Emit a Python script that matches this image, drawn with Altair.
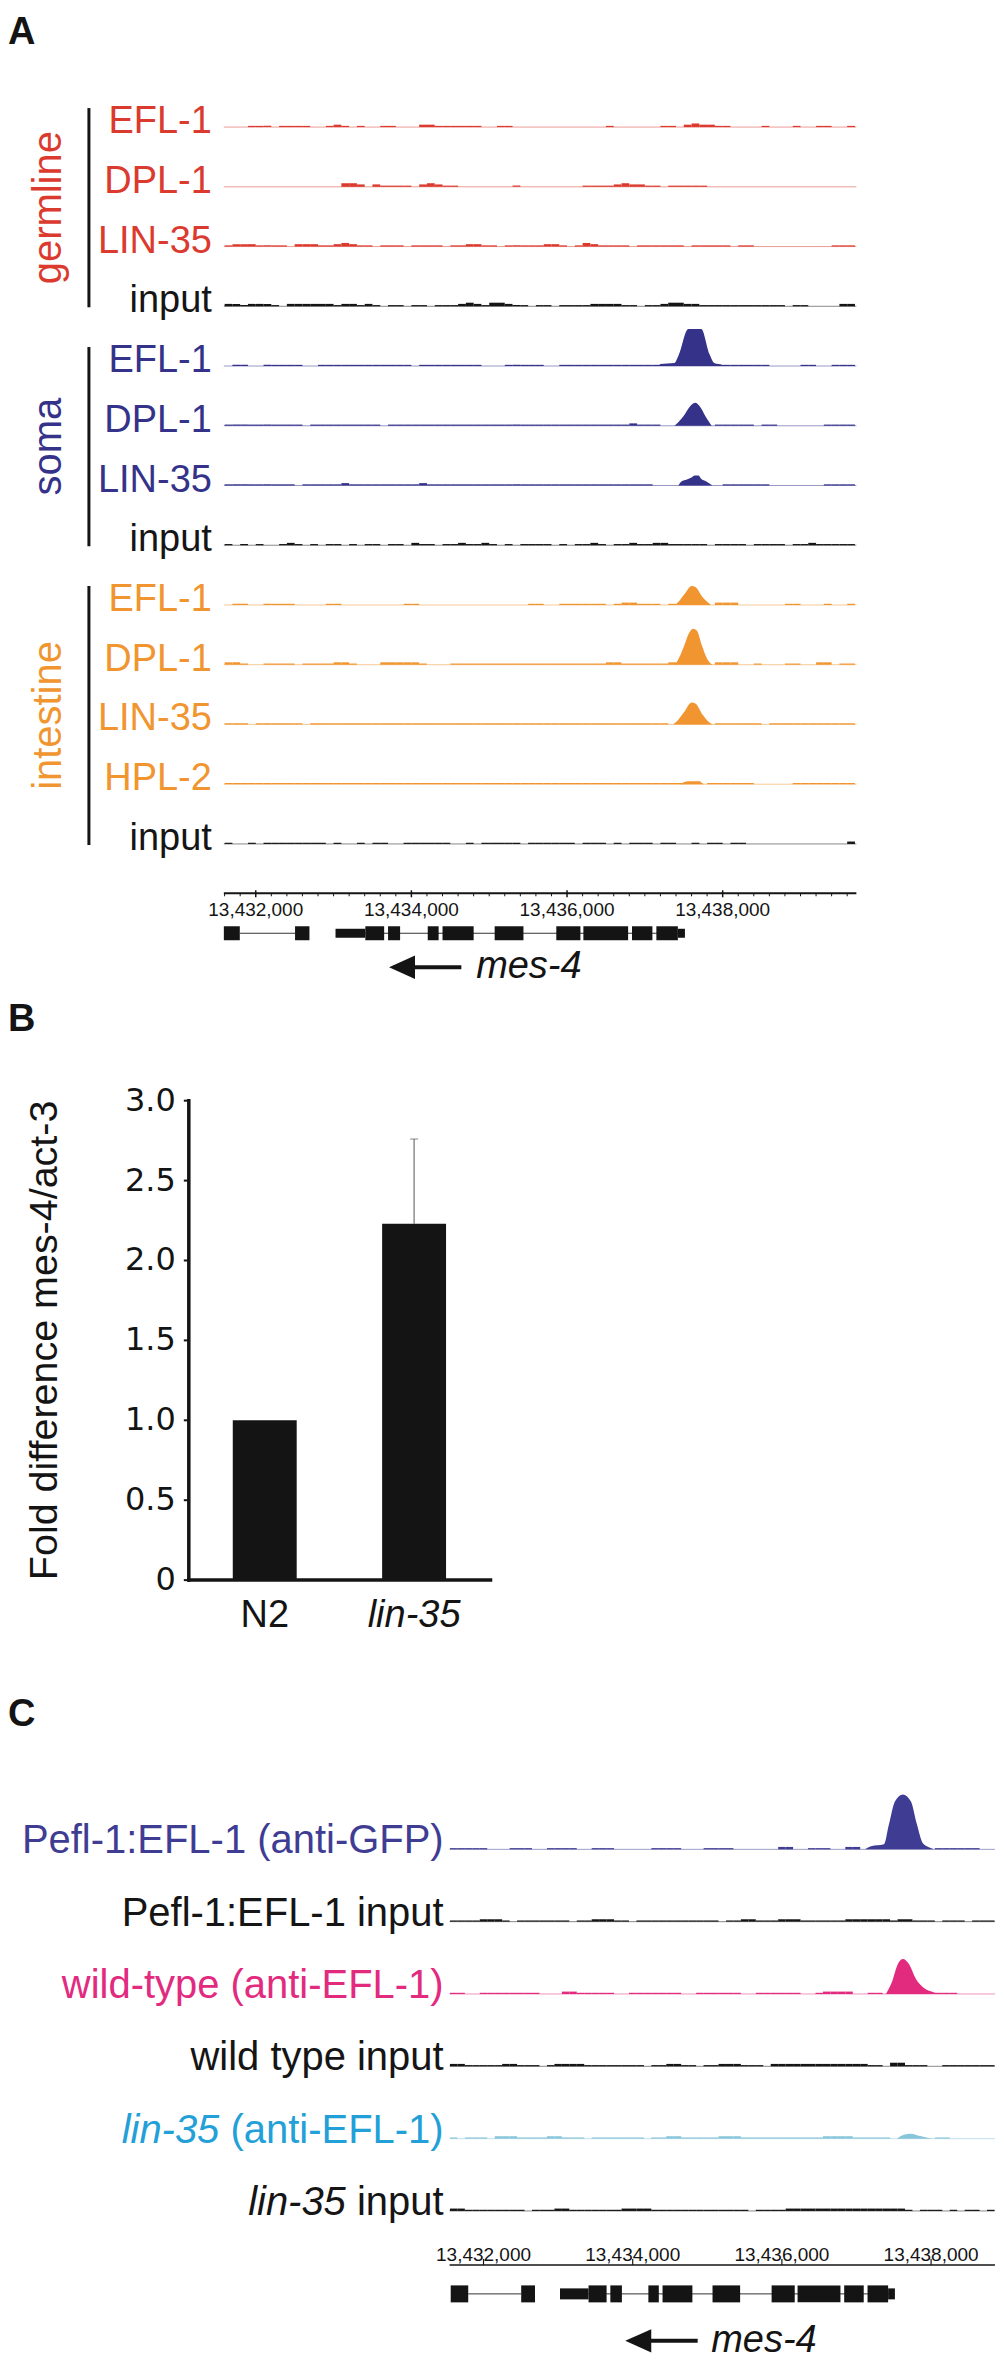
import altair as alt
import pandas as pd

FONT = "Liberation Sans"
WIDE_FONT = "DejaVu Sans"
INK = "#141414"
NOISE_PX = 1.2
BIN = 100
W = 988
HA, HB, HC = 985, 697, 676

COLOR_KEYS = ["germline", "soma", "intestine", "input", "gfp", "wt", "lin", "lin_txt"]
COLOR_VALUES = ["#DB3A2E", "#35328A", "#F0952F", "#151515", "#3F3D93", "#E22A7F", "#86C5DA", "#22A0D7"]


def color_enc():
    return alt.Color("key:N", scale=alt.Scale(domain=COLOR_KEYS, range=COLOR_VALUES), legend=None)


# ---------------- gene model (shared by A and C) ----------------
GENE_NAME = "mes-4"
GENE_EXONS = [(13431560, 13431795), (13432505, 13432690), (13433408, 13433650), (13433700, 13433855),
              (13434210, 13434350), (13434400, 13434800), (13435070, 13435440), (13435862, 13436172),
              (13436210, 13436785), (13436835, 13437097), (13437148, 13437424)]
GENE_UTR = [(13433025, 13433408), (13437424, 13437515)]
GENE_INTRONS = [(13431795, 13432505), (13433408, 13437515)]

# ---------------- Panel A ----------------
A_LABELS = ["EFL-1", "DPL-1", "LIN-35", "input", "EFL-1", "DPL-1", "LIN-35", "input",
            "EFL-1", "DPL-1", "LIN-35", "HPL-2", "input"]
A_KEYS = ["germline", "germline", "germline", "input", "soma", "soma", "soma", "input",
          "intestine", "intestine", "intestine", "intestine", "input"]
A_GROUP_NAMES = ["germline", "soma", "intestine"]
A_GROUP_SPANS = [(0, 3), (4, 7), (8, 12)]
A_START, A_END = 13431590, 13439718
A_BIN0 = 13431600
A_TICKS = [13432000, 13434000, 13436000, 13438000]
A_TICK_LABELS = ["13,432,000", "13,434,000", "13,436,000", "13,438,000"]
A_MINOR_STEP = 200
A_ARROW = (13433713, 13434642, 13434832)  # tip, tail, text start

A_NOISE = [
    [0,0,0,1,1,1,0,1,1,1, 1,0,0,1,2,1,0,1,0,0, 1,1,0,0,0,2,2,1,1,1, 1,1,1,0,0,1,1,0,0,0,
     0,0,0,0,0,0,0,0,0,1, 0,0,0,0,0,0,1,1,0,2, 3,2,2,1,1,0,0,0,0,1, 0,0,0,1,0,0,1,1,0,0, 1],
    [0,0,0,0,0,0,0,0,0,0, 0,0,0,0,0,3,3,2,0,2, 1,1,1,1,0,2,3,2,1,1, 0,0,0,0,0,0,0,1,0,0,
     0,0,0,0,0,0,1,1,1,1, 2,3,2,2,1,1,0,1,1,1, 1,1,0,0,0,0,0,0,0,0, 0,0,0,0,0,0,0,0,0,0, 0],
    [1,2,2,2,1,1,1,1,0,2, 2,2,1,1,2,3,2,1,1,0, 1,1,1,0,1,1,1,1,0,1, 1,2,2,1,1,0,1,1,1,1,
     1,2,2,1,0,1,3,2,1,1, 1,1,0,1,1,1,1,1,1,0, 1,1,1,1,1,0,1,1,0,0, 0,0,0,0,0,0,0,0,1,1, 1],
    [2,2,1,2,2,2,1,0,2,2, 2,2,2,2,1,2,2,1,2,1, 0,1,1,0,1,1,0,1,1,1, 2,3,2,1,3,3,2,1,1,0,
     1,1,0,1,1,1,1,2,2,2, 2,1,1,0,1,1,2,3,3,2, 2,1,1,1,1,1,1,1,1,1, 1,1,0,1,1,0,0,0,0,2, 2],
    [0,1,1,0,0,1,1,1,1,1, 0,0,1,1,1,1,1,1,1,1, 1,1,1,1,0,1,1,1,1,1, 1,1,1,0,0,0,1,1,1,1,
     1,0,0,1,1,1,1,1,1,1, 1,1,1,1,1,1,0,0,0,0, 0,0,0,0,1,1,1,1,1,1, 0,0,0,0,1,1,0,0,1,1, 1],
    [1,1,1,1,1,1,1,1,1,1, 0,1,1,1,1,1,1,1,1,1, 0,1,1,1,1,1,1,1,1,1, 1,1,1,1,1,1,1,1,1,1,
     1,1,1,1,1,1,1,1,1,1, 1,1,2,1,1,1,0,0,0,0, 0,0,0,1,1,1,1,1,0,1, 1,0,0,0,0,0,0,1,1,1, 1],
    [1,1,1,1,1,1,1,1,1,0, 1,1,1,1,1,2,1,1,1,1, 1,1,1,1,1,2,1,1,1,1, 1,1,1,1,1,1,1,1,1,1,
     1,1,1,1,1,1,1,1,1,1, 1,1,1,1,1,0,0,0,0,0, 0,0,0,0,1,1,1,1,1,1, 0,0,0,0,0,0,0,1,1,1, 1],
    [1,0,1,0,1,0,0,1,2,1, 0,1,0,1,1,0,1,0,1,1, 0,1,1,0,2,1,1,0,1,1, 2,1,1,2,1,0,1,0,1,1,
     1,1,0,1,0,1,1,2,1,0, 1,1,2,1,1,2,2,1,1,1, 1,1,0,1,1,1,1,0,1,1, 1,1,0,1,1,2,1,1,1,1, 1],
    [0,1,1,0,0,1,1,1,1,0, 0,0,0,1,1,0,0,0,0,0, 0,0,0,1,1,0,0,0,0,0, 0,0,0,0,0,0,0,0,0,1,
     1,0,0,1,1,1,1,1,1,0, 1,2,2,1,1,1,0,1,0,0, 0,0,0,2,2,2,0,0,0,0, 0,0,1,1,0,0,0,1,0,0, 1],
    [2,2,1,0,0,1,1,1,1,0, 1,1,1,1,2,2,1,0,0,0, 2,2,2,2,2,1,0,0,0,1, 1,1,1,1,1,1,1,1,1,1,
     1,1,1,1,1,1,1,1,1,2, 2,1,1,1,1,1,1,2,0,0, 0,0,0,2,2,2,0,0,1,0, 0,0,1,1,0,0,2,2,0,1, 1],
    [1,1,1,0,1,1,1,1,1,1, 0,1,1,1,1,1,1,1,1,1, 1,1,1,1,1,1,1,1,1,1, 1,1,1,1,1,1,1,1,1,1,
     1,1,1,1,1,1,1,1,1,1, 1,1,1,1,1,1,1,0,0,0, 0,0,0,1,1,1,1,1,1,0, 1,1,1,1,1,1,1,1,1,1, 1],
    [1,1,1,1,1,1,1,1,1,1, 1,1,1,1,1,1,1,1,1,1, 1,1,1,1,1,1,1,1,1,1, 1,1,1,1,1,1,1,1,1,1,
     1,1,1,1,1,1,1,1,1,1, 1,1,1,1,1,1,1,1,1,0, 0,0,1,1,1,1,1,1,0,0, 0,0,0,1,1,1,1,1,1,1, 1],
    [1,0,0,1,0,1,1,1,1,1, 1,1,1,0,1,0,0,1,0,1, 1,0,0,1,1,1,1,1,1,0, 0,1,0,1,1,1,1,1,0,1,
     1,1,1,1,1,0,1,1,1,0, 1,0,1,1,1,0,1,1,0,0, 1,0,1,1,0,1,1,0,0,0, 0,0,0,0,0,0,0,0,0,0, 2],
]

A_PEAKS = {
    4: ([13437180, 13437200, 13437380, 13437430, 13437558, 13437725, 13437830, 13437892, 13438000, 13438020],
        [0, 2, 3, 10, 37, 37, 12, 3, 1, 0]),
    5: ([13437380, 13437410, 13437500, 13437600, 13437650, 13437700, 13437790, 13437840, 13437860],
        [0, 2, 10, 21, 23, 20, 8, 2, 0]),
    6: ([13437430, 13437470, 13437540, 13437600, 13437640, 13437690, 13437720, 13437790, 13437850, 13437870],
        [0, 4, 6, 8, 10, 10, 7, 4, 1, 0]),
    8: ([13437390, 13437430, 13437520, 13437600, 13437650, 13437740, 13437820, 13437850],
        [0, 3, 12, 19, 18, 8, 2, 0]),
    9: ([13437380, 13437420, 13437500, 13437570, 13437620, 13437670, 13437730, 13437800, 13437850, 13437870],
        [0, 4, 18, 32, 36, 34, 20, 6, 1, 0]),
    10: ([13437360, 13437410, 13437510, 13437600, 13437650, 13437740, 13437830, 13437870],
         [0, 3, 13, 22, 21, 10, 2, 0]),
    11: ([13437460, 13437500, 13437560, 13437700, 13437740, 13437760],
         [0, 2, 3, 3, 1, 0]),
}

# ---------------- Panel B ----------------
B_CATS = ["N2", "lin-35"]
B_VALUES = [1.0, 2.23]
B_ERRORS = [0.0, 0.53]
B_YTICKS = [0, 0.5, 1.0, 1.5, 2.0, 2.5, 3.0]
B_YTICK_LABELS = ["0", "0.5", "1.0", "1.5", "2.0", "2.5", "3.0"]
B_YTITLE = "Fold difference mes-4/act-3"

# ---------------- Panel C ----------------
C_LABELS_MAIN = ["Pefl-1:EFL-1 (anti-GFP)", "Pefl-1:EFL-1 input", "wild-type (anti-EFL-1)",
                 "wild type input", "(anti-EFL-1)", "input"]
C_LABELS_ITALIC = ["", "", "", "", "lin-35", "lin-35"]
C_LABEL_KEYS = ["gfp", "input", "wt", "input", "lin_txt", "input"]
C_KEYS = ["gfp", "input", "wt", "input", "lin", "input"]
C_START, C_END = 13431545, 13438856
C_BIN0 = 13431550
C_TICKS = [13432000, 13434000, 13436000, 13438000]
C_TICK_LABELS = ["13,432,000", "13,434,000", "13,436,000", "13,438,000"]
C_ARROW = (13433900, 13434871, 13435052)

C_NOISE = [
    [1,1,1,1,1,0,0,0,1,1, 1,0,0,1,1,1,1,0,0,1, 1,1,0,0,0,0,0,1,1,1, 1,0,0,0,1,1,1,1,0,0,
     0,0,0,0,2,2,0,0,1,1, 1,0,0,2,2,0,0,0,0,0, 0,0,0,0,0,1,1,1,1,1, 1,0,0],
    [1,1,1,1,2,2,2,1,0,1, 1,1,1,1,1,1,0,1,1,2, 2,2,1,1,0,1,1,1,1,1, 1,1,1,1,1,1,0,1,1,2,
     2,1,1,1,2,2,2,1,1,1, 1,1,1,2,2,2,2,2,2,1, 2,2,1,1,1,0,1,1,1,0, 1,1,1],
    [1,1,0,0,1,1,1,1,1,1, 1,1,0,0,0,2,2,1,1,1, 1,1,0,0,1,1,1,1,1,1, 1,0,0,1,1,1,1,1,1,0,
     0,1,1,1,1,1,1,0,0,1, 2,2,2,2,0,0,1,1,0,0, 0,0,0,0,0,1,1,1,0,0, 0,0,0],
    [2,2,1,1,1,1,1,2,2,1, 1,1,0,1,2,2,2,2,1,1, 1,1,1,1,1,1,0,1,1,2, 2,1,1,0,1,1,2,2,2,1,
     1,1,0,2,2,2,2,2,2,2, 2,2,2,2,2,2,1,1,0,3, 3,1,1,1,0,0,1,1,1,1, 1,1,1],
    [1,0,1,1,1,0,2,2,2,1, 1,1,1,2,2,1,1,1,0,1, 1,1,1,1,1,1,0,1,1,2, 2,1,1,1,1,1,2,2,2,1,
     1,1,1,1,1,1,1,1,1,1, 2,2,2,2,1,1,1,1,1,0, 0,0,0,0,0,1,1,0,0,0, 0,0,0],
    [2,2,1,1,1,1,1,1,1,1, 0,1,1,1,2,2,1,1,1,1, 1,1,1,2,2,2,2,1,1,1, 1,1,1,1,1,1,1,1,1,1,
     0,1,1,1,1,2,2,2,2,2, 2,2,2,2,2,2,2,2,2,2, 2,1,0,1,1,1,0,1,0,1, 1,0,1],
]

C_PEAKS = {
    0: ([13437114, 13437194, 13437368, 13437435, 13437515, 13437622, 13437730, 13437810, 13437890, 13437970, 13438037],
        [0, 3, 5, 25, 48, 55, 48, 25, 6, 2, 0]),
    2: ([13437395, 13437475, 13437555, 13437622, 13437703, 13437797, 13437904, 13438024, 13438100],
        [0, 12, 30, 35, 30, 15, 6, 2, 0]),
    4: ([13437542, 13437636, 13437730, 13437837, 13438011],
        [0, 4, 5, 3, 0]),
}

# Arial advance widths (per 1000 em) for the label pieces that need offsetting
ARIAL_W = {" ": 278, "(": 333, ")": 333, "a": 556, "n": 556, "t": 278, "i": 222, "-": 333,
           "E": 667, "F": 611, "L": 556, "1": 556, "p": 556, "u": 556}


def text_width(s, size):
    return sum(ARIAL_W.get(ch, 556) for ch in s) * size / 1000.0


# ---------------- helpers ----------------
def track_frames(keys, bases, noise, peaks, start, end, bin0):
    brows, nrows, prows = [], [], []
    for i, (key, base, lst) in enumerate(zip(keys, bases, noise)):
        brows.append(dict(track=i, key=key, x0=start, x1=end, y=base))
        for k, v in enumerate(lst):
            x0 = bin0 + k * BIN
            if v > 0 and x0 < end:
                nrows.append(dict(track=i, key=key, x0=x0, x1=min(x0 + BIN, end),
                                  y0=base, y1=base - v * NOISE_PX))
    for i, (pos, hts) in peaks.items():
        for p, h in zip(pos, hts):
            prows.append(dict(track=i, key=keys[i], x=p, y=bases[i] - h, base=bases[i]))
    return pd.DataFrame(brows), pd.DataFrame(nrows), pd.DataFrame(prows)


def track_layers(xs, ys, keys, bases, noise, peaks, start, end, bin0):
    bdf, ndf, pdf_ = track_frames(keys, bases, noise, peaks, start, end, bin0)
    base = alt.Chart(bdf).mark_rule(strokeWidth=1, opacity=0.5).encode(
        x=alt.X("x0:Q", scale=xs, axis=None), x2="x1:Q",
        y=alt.Y("y:Q", scale=ys, axis=None), color=color_enc())
    nz = alt.Chart(ndf).mark_rect(strokeWidth=0).encode(
        x=alt.X("x0:Q", scale=xs, axis=None), x2="x1:Q",
        y=alt.Y("y0:Q", scale=ys, axis=None), y2="y1:Q", color=color_enc())
    pk = alt.Chart(pdf_).mark_area(interpolate="monotone", opacity=1).encode(
        x=alt.X("x:Q", scale=xs, axis=None),
        y=alt.Y("y:Q", scale=ys, axis=None), y2="base:Q",
        color=color_enc(), detail="track:N")
    return [base, nz, pk]


def gene_layers(xs, ys, start, end, gy, exon_h, utr_h):
    ex = pd.DataFrame([dict(x0=max(s, start), x1=min(e, end), y0=gy - exon_h / 2, y1=gy + exon_h / 2)
                       for s, e in GENE_EXONS])
    ut = pd.DataFrame([dict(x0=max(s, start), x1=min(e, end), y0=gy - utr_h / 2, y1=gy + utr_h / 2)
                       for s, e in GENE_UTR])
    it = pd.DataFrame([dict(x0=max(s, start), x1=min(e, end), y=gy) for s, e in GENE_INTRONS])
    intr = alt.Chart(it).mark_rule(color="#333333", strokeWidth=1).encode(
        x=alt.X("x0:Q", scale=xs, axis=None), x2="x1:Q", y=alt.Y("y:Q", scale=ys, axis=None))
    exr = alt.Chart(ex).mark_rect(color=INK, strokeWidth=0).encode(
        x=alt.X("x0:Q", scale=xs, axis=None), x2="x1:Q",
        y=alt.Y("y0:Q", scale=ys, axis=None), y2="y1:Q")
    utr = alt.Chart(ut).mark_rect(color=INK, strokeWidth=0).encode(
        x=alt.X("x0:Q", scale=xs, axis=None), x2="x1:Q",
        y=alt.Y("y0:Q", scale=ys, axis=None), y2="y1:Q")
    return [intr, utr, exr]


def arrow_layers(xs, ys, arrow, y):
    tip, tail, text_x = arrow
    shaft = pd.DataFrame({"x0": [tip + (tail - tip) * 0.2], "x1": [tail], "y": [y]})
    head = pd.DataFrame({"x": [tip], "y": [y]})
    txt = pd.DataFrame({"x": [text_x], "y": [y], "t": [GENE_NAME]})
    l1 = alt.Chart(shaft).mark_rule(color=INK, strokeWidth=4).encode(
        x=alt.X("x0:Q", scale=xs, axis=None), x2="x1:Q", y=alt.Y("y:Q", scale=ys, axis=None))
    l2 = alt.Chart(head).mark_point(shape="M 0 0 L 2 -0.9 L 2 0.9 Z", size=676, filled=True,
                                    color=INK, opacity=1, strokeWidth=0).encode(
        x=alt.X("x:Q", scale=xs, axis=None), y=alt.Y("y:Q", scale=ys, axis=None))
    l3 = alt.Chart(txt).mark_text(align="left", baseline="middle", font=FONT, fontSize=38,
                                  fontStyle="italic", color=INK).encode(
        x=alt.X("x:Q", scale=xs, axis=None), y=alt.Y("y:Q", scale=ys, axis=None), text="t:N")
    return [l1, l2, l3]


def panel_letter(letter, y):
    return alt.Chart(pd.DataFrame({"t": [letter]})).mark_text(
        align="left", baseline="alphabetic", font=FONT, fontSize=38, fontWeight="bold", color=INK
    ).encode(x=alt.value(0), y=alt.value(y), text="t:N")


# ================= Panel A =================
A_BASES = [118 + 59.8 * i for i in range(len(A_LABELS))]
xsA = alt.Scale(domain=[13428816.4, 13441499.4], nice=False, zero=False)
ysA = alt.Scale(domain=[0, HA], reverse=True, nice=False, zero=False)
A_AXIS_Y, A_TICKLABEL_Y, A_GENE_Y, A_MES_Y = 885, 902, 925, 959

layersA = [panel_letter("A", 35)]
layersA += track_layers(xsA, ysA, A_KEYS, A_BASES, A_NOISE, A_PEAKS, A_START, A_END, A_BIN0)

lab_df = pd.DataFrame({"t": A_LABELS, "key": A_KEYS, "x": [A_START] * len(A_LABELS),
                       "y": [b + 6 for b in A_BASES]})
layersA.append(alt.Chart(lab_df).mark_text(align="right", baseline="alphabetic", dx=-12,
                                           font=FONT, fontSize=38).encode(
    x=alt.X("x:Q", scale=xsA, axis=None), y=alt.Y("y:Q", scale=ysA, axis=None),
    text="t:N", color=color_enc()))

grp_rows = []
for name, (a, b) in zip(A_GROUP_NAMES, A_GROUP_SPANS):
    top, bot = A_BASES[a] - 19, A_BASES[b] + 1
    grp_rows.append(dict(t=name, key=name, y0=top, y1=bot, yc=(top + bot) / 2))
grp_df = pd.DataFrame(grp_rows)
layersA.append(alt.Chart(grp_df).mark_rule(color=INK, strokeWidth=3).encode(
    x=alt.value(81), y=alt.Y("y0:Q", scale=ysA, axis=None), y2="y1:Q"))
layersA.append(alt.Chart(grp_df).mark_text(angle=270, align="center", baseline="alphabetic",
                                           font=FONT, fontSize=40).encode(
    x=alt.value(53), y=alt.Y("yc:Q", scale=ysA, axis=None), text="t:N", color=color_enc()))

# genomic axis A
ax_df = pd.DataFrame({"x0": [A_START], "x1": [A_END], "y": [A_AXIS_Y]})
layersA.append(alt.Chart(ax_df).mark_rule(color=INK, strokeWidth=2).encode(
    x=alt.X("x0:Q", scale=xsA, axis=None), x2="x1:Q", y=alt.Y("y:Q", scale=ysA, axis=None)))
minor = [p for p in range(A_BIN0, A_END, A_MINOR_STEP) if p not in A_TICKS]
mn_df = pd.DataFrame({"x": minor, "y0": [A_AXIS_Y] * len(minor), "y1": [A_AXIS_Y + 3] * len(minor)})
layersA.append(alt.Chart(mn_df).mark_rule(color=INK, strokeWidth=1).encode(
    x=alt.X("x:Q", scale=xsA, axis=None), y=alt.Y("y0:Q", scale=ysA, axis=None), y2="y1:Q"))
mj_df = pd.DataFrame({"x": A_TICKS, "y0": [A_AXIS_Y - 3] * 4, "y1": [A_AXIS_Y + 4] * 4,
                      "t": A_TICK_LABELS, "ty": [A_TICKLABEL_Y] * 4})
layersA.append(alt.Chart(mj_df).mark_rule(color=INK, strokeWidth=1.5).encode(
    x=alt.X("x:Q", scale=xsA, axis=None), y=alt.Y("y0:Q", scale=ysA, axis=None), y2="y1:Q"))
layersA.append(alt.Chart(mj_df).mark_text(align="center", baseline="middle", font=FONT,
                                          fontSize=19, color=INK).encode(
    x=alt.X("x:Q", scale=xsA, axis=None), y=alt.Y("ty:Q", scale=ysA, axis=None), text="t:N"))
layersA += gene_layers(xsA, ysA, A_START, A_END, A_GENE_Y, 14, 9)
layersA += arrow_layers(xsA, ysA, A_ARROW, A_MES_Y)

panelA = alt.layer(*layersA).properties(width=W, height=HA)

# ================= Panel B =================
xsB = alt.Scale(domain=B_CATS, range=[180, 483.5], paddingInner=0.572, paddingOuter=0.301)
ysB = alt.Scale(domain=[-0.6845, 3.6726], nice=False, zero=False)
bar_df = pd.DataFrame({"cat": B_CATS, "val": B_VALUES, "zero": [0.0] * len(B_CATS),
                       "hi": [v + e for v, e in zip(B_VALUES, B_ERRORS)], "err": B_ERRORS})
err_df = bar_df[bar_df["err"] > 0]
xB = alt.X("cat:N", scale=xsB, axis=None, sort=B_CATS)

layersB = [panel_letter("B", 38)]
layersB.append(alt.Chart(err_df).mark_rule(color="#555555", strokeWidth=1).encode(
    x=xB, y=alt.Y("val:Q", scale=ysB, axis=None), y2="hi:Q"))
layersB.append(alt.Chart(err_df).mark_tick(color="#555555", size=8, thickness=1).encode(
    x=xB, y=alt.Y("hi:Q", scale=ysB, axis=None)))
layersB.append(alt.Chart(bar_df).mark_bar(color=INK).encode(
    x=xB, y=alt.Y("val:Q", scale=ysB, axis=None), y2="zero:Q"))

yax_df = pd.DataFrame({"y0": [B_YTICKS[0]], "y1": [B_YTICKS[-1]]})
layersB.append(alt.Chart(yax_df).mark_rule(color=INK, strokeWidth=3.5, strokeCap="square").encode(
    x=alt.value(181), y=alt.Y("y0:Q", scale=ysB, axis=None), y2="y1:Q"))
layersB.append(alt.Chart(yax_df).mark_rule(color=INK, strokeWidth=3.5, strokeCap="square").encode(
    x=alt.value(181), x2=alt.value(483), y=alt.Y("y0:Q", scale=ysB, axis=None)))
yt_df = pd.DataFrame({"t": B_YTICKS, "lab": B_YTICK_LABELS})
layersB.append(alt.Chart(yt_df).mark_rule(color=INK, strokeWidth=2).encode(
    x=alt.value(176), x2=alt.value(181), y=alt.Y("t:Q", scale=ysB, axis=None)))
layersB.append(alt.Chart(yt_df).mark_text(align="right", baseline="middle", font=WIDE_FONT,
                                          fontSize=32, color=INK).encode(
    x=alt.value(168), y=alt.Y("t:Q", scale=ysB, axis=None), text="lab:N"))
layersB.append(alt.Chart(bar_df[bar_df["cat"] == B_CATS[0]]).mark_text(
    align="center", baseline="middle", font=FONT, fontSize=38, color=INK).encode(
    x=xB, y=alt.value(623), text="cat:N"))
layersB.append(alt.Chart(bar_df[bar_df["cat"] == B_CATS[1]]).mark_text(
    align="center", baseline="middle", font=FONT, fontSize=38, fontStyle="italic", color=INK).encode(
    x=xB, y=alt.value(623), text="cat:N"))
tt_df = pd.DataFrame({"t": [B_YTITLE], "y": [(B_YTICKS[0] + B_YTICKS[-1]) / 2]})
layersB.append(alt.Chart(tt_df).mark_text(angle=270, align="center", baseline="alphabetic",
                                          font=FONT, fontSize=39.5, color=INK).encode(
    x=alt.value(49), y=alt.Y("y:Q", scale=ysB, axis=None), text="t:N"))

panelB = alt.layer(*layersB).properties(width=W, height=HB)

# ================= Panel C =================
C_BASES = [160 + 72.4 * i for i in range(len(C_LABELS_MAIN))]
xsC = alt.Scale(domain=[13425625.3, 13438856.8], nice=False, zero=False)
ysC = alt.Scale(domain=[0, HC], reverse=True, nice=False, zero=False)
C_AXIS_Y, C_TICKLABEL_Y, C_GENE_Y, C_MES_Y = 576, 566.5, 605, 652

layersC = [panel_letter("C", 37)]
layersC += track_layers(xsC, ysC, C_KEYS, C_BASES, C_NOISE, C_PEAKS, C_START, C_END, C_BIN0)

for main, ital, key, b in zip(C_LABELS_MAIN, C_LABELS_ITALIC, C_LABEL_KEYS, C_BASES):
    df = pd.DataFrame({"t": [main], "key": [key], "x": [C_START], "y": [b + 4]})
    layersC.append(alt.Chart(df).mark_text(align="right", baseline="alphabetic", dx=-6,
                                           font=FONT, fontSize=40).encode(
        x=alt.X("x:Q", scale=xsC, axis=None), y=alt.Y("y:Q", scale=ysC, axis=None),
        text="t:N", color=color_enc()))
    if ital:
        dfi = pd.DataFrame({"t": [ital], "key": [key], "x": [C_START], "y": [b + 4]})
        layersC.append(alt.Chart(dfi).mark_text(
            align="right", baseline="alphabetic", dx=-6 - text_width(" " + main, 40),
            font=FONT, fontSize=40, fontStyle="italic").encode(
            x=alt.X("x:Q", scale=xsC, axis=None), y=alt.Y("y:Q", scale=ysC, axis=None),
            text="t:N", color=color_enc()))

axc_df = pd.DataFrame({"x0": [C_START], "x1": [C_END], "y": [C_AXIS_Y]})
layersC.append(alt.Chart(axc_df).mark_rule(color=INK, strokeWidth=1.5).encode(
    x=alt.X("x0:Q", scale=xsC, axis=None), x2="x1:Q", y=alt.Y("y:Q", scale=ysC, axis=None)))
mjc_df = pd.DataFrame({"x": C_TICKS, "y0": [C_AXIS_Y - 6] * 4, "y1": [C_AXIS_Y] * 4,
                       "t": C_TICK_LABELS, "ty": [C_TICKLABEL_Y] * 4})
layersC.append(alt.Chart(mjc_df).mark_rule(color=INK, strokeWidth=1.2).encode(
    x=alt.X("x:Q", scale=xsC, axis=None), y=alt.Y("y0:Q", scale=ysC, axis=None), y2="y1:Q"))
layersC.append(alt.Chart(mjc_df).mark_text(align="center", baseline="middle", font=FONT,
                                           fontSize=19, color=INK).encode(
    x=alt.X("x:Q", scale=xsC, axis=None), y=alt.Y("ty:Q", scale=ysC, axis=None), text="t:N"))
layersC += gene_layers(xsC, ysC, C_START, C_END, C_GENE_Y, 17, 11)
layersC += arrow_layers(xsC, ysC, C_ARROW, C_MES_Y)

panelC = alt.layer(*layersC).properties(width=W, height=HC)

chart = alt.vconcat(panelA, panelB, panelC, spacing=0, bounds="flush", padding=0).resolve_scale(
    x="independent", y="independent").configure_view(stroke=None)

chart.save("out.html", embed_options={"renderer": "svg", "actions": False})
